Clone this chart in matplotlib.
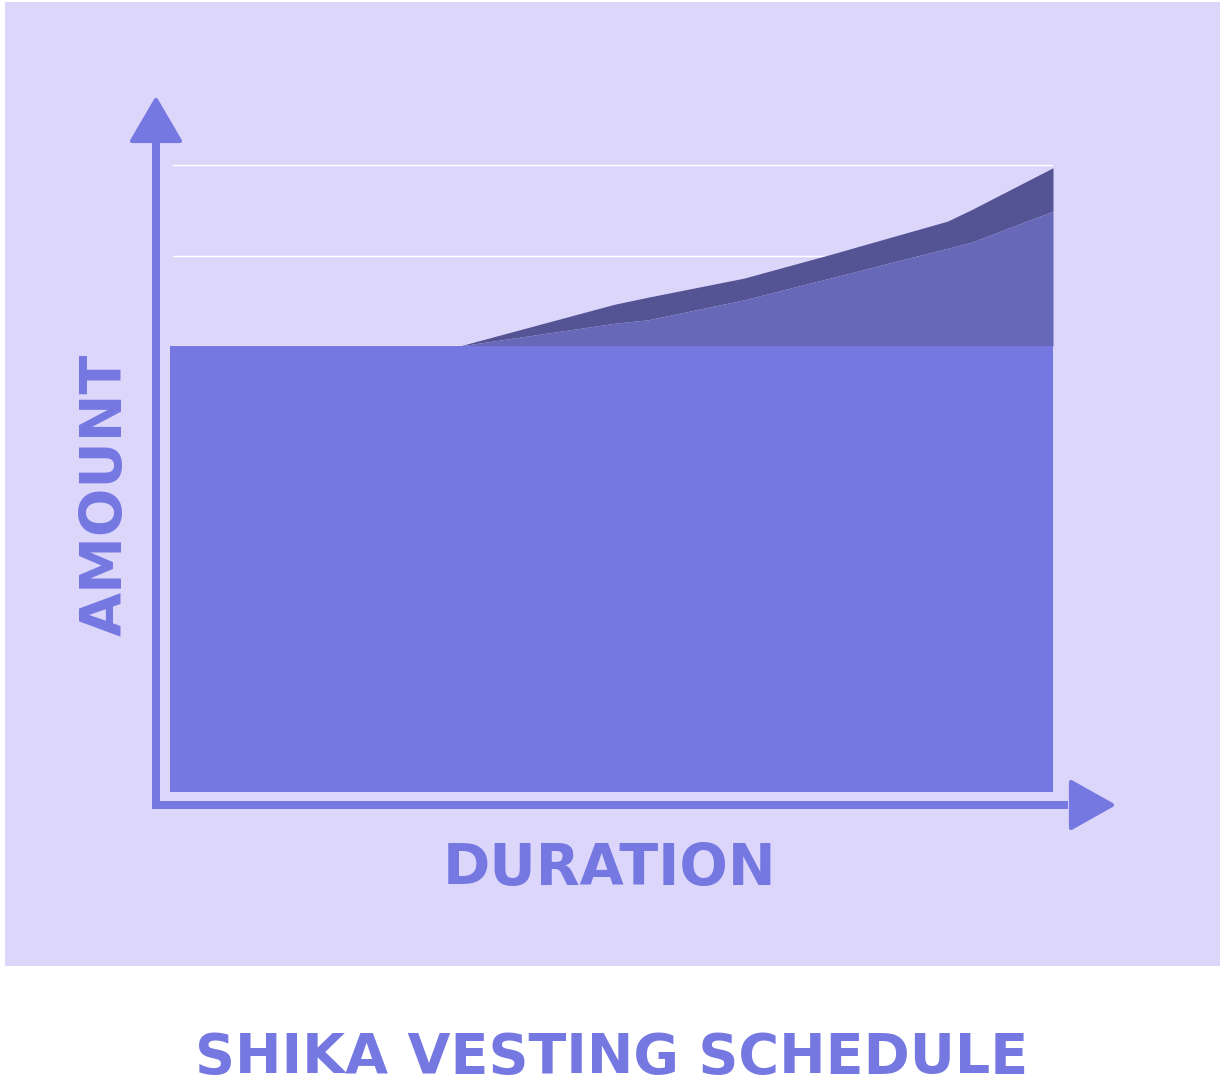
import matplotlib.pyplot as plt
from matplotlib.patches import Polygon, Rectangle

# data (months since start, cumulative % of supply)
months = [0, 11.8, 18.1, 19.5, 23.4, 26.9, 31.7, 32.7, 36]
unlocked = [50, 50, 50, 50, 50, 50, 50, 50, 50]
vested_mid = [50, 50, 52.5, 52.9, 55.1, 57.5, 60.8, 61.5, 64.9]
vested_top = [50, 50, 54.6, 55.4, 57.5, 60.1, 63.8, 65.1, 69.7]
grid_levels = [50, 60, 70]

title = 'SHIKA VESTING SCHEDULE'
xlabel = 'DURATION'
ylabel = 'AMOUNT'

panel_bg = '#DCD6FB'
main_col = '#7678E2'
mid_col = '#6868B8'
top_col = '#545494'

W, H = 1224, 1084
fig = plt.figure(figsize=(W / 100, H / 100), dpi=100)
fig.patch.set_facecolor('white')

# decoration layer in pixel coords
deco = fig.add_axes([0, 0, 1, 1])
deco.set_xlim(0, W)
deco.set_ylim(H, 0)
deco.axis('off')
deco.add_patch(Rectangle((5, 2), 1215, 964, facecolor=panel_bg, edgecolor='none'))

# data axes
x0, x1, yb = 170, 1053, 791
ymin, ymax = 0.83, 72
px_per_unit = 9.05
top_px = yb - (ymax - ymin) * px_per_unit
ax = fig.add_axes([x0 / W, (H - yb) / H, (x1 - x0) / W, (yb - top_px) / H])
ax.set_xlim(months[0], months[-1])
ax.set_ylim(ymin, ymax)
ax.set_facecolor('none')
for s in ax.spines.values():
    s.set_visible(False)
ax.set_xticks([])
ax.set_yticks([])
for g in grid_levels:
    ax.plot([0.12, months[-1]], [g, g], color='white', lw=1.0, zorder=1)

ax.fill_between(months, vested_mid, vested_top, color=top_col, lw=0, zorder=2)
ax.fill_between(months, unlocked, vested_mid, color=mid_col, lw=0, zorder=2)
ax.fill_between(months, 0, unlocked, color=main_col, lw=0, zorder=3)

# arrow axes
lw = 8 * 72 / 100
deco.plot([156, 156], [805, 140], color=main_col, lw=lw, solid_capstyle='butt')
deco.plot([152, 1068], [805, 805], color=main_col, lw=lw, solid_capstyle='butt')
deco.add_patch(Polygon([[156, 100], [132, 141], [180, 141]], closed=True,
                       facecolor=main_col, edgecolor=main_col, lw=3, joinstyle='round'))
deco.add_patch(Polygon([[1071, 782], [1071, 828], [1112, 805]], closed=True,
                       facecolor=main_col, edgecolor=main_col, lw=3, joinstyle='round'))

font = dict(family='DejaVu Sans', weight='heavy', color=main_col)
deco.text(106, 495, ylabel, rotation=90, ha='center', va='center', fontsize=41, **font)
deco.text(610, 869, xlabel, ha='center', va='center', fontsize=41, **font)
deco.text(612, 1058, title, ha='center', va='center', fontsize=40, **font)

fig.savefig('out.png', dpi=100, facecolor='white')
